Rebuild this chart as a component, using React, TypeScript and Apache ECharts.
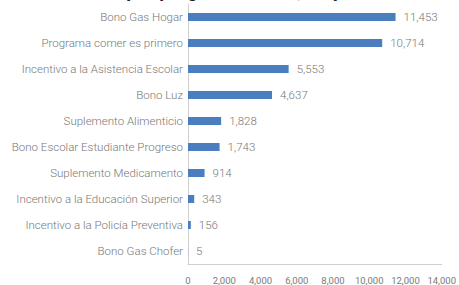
import React, { useEffect, useRef } from "react";
import * as echarts from "echarts";

const categories = [
  "Bono Gas Hogar",
  "Programa comer es primero",
  "Incentivo a la Asistencia Escolar",
  "Bono Luz",
  "Suplemento Alimenticio",
  "Bono Escolar Estudiante Progreso",
  "Suplemento Medicamento",
  "Incentivo a la Educación Superior",
  "Incentivo a la Policía Preventiva",
  "Bono Gas Chofer",
];
const values = [11453, 10714, 5553, 4637, 1828, 1743, 914, 343, 156, 5];
const titleText = "Beneficiarios por programa social, mayo de 2022";

export default function App() {
  const ref = useRef<HTMLDivElement>(null);
  useEffect(() => {
    const chart = echarts.init(ref.current!, null, { renderer: "svg" });
    chart.setOption({
      animation: false,
      backgroundColor: "#ffffff",
      textStyle: { fontFamily: "Roboto" },
      title: {
        text: titleText,
        left: 4,
        top: -24,
        textStyle: { fontSize: 19, fontWeight: "bold", color: "#222", fontFamily: "Roboto" },
      },
      grid: { left: 188, right: 16, top: 4, bottom: 20 },
      xAxis: {
        type: "value",
        min: 0,
        max: 14000,
        interval: 2000,
        axisLine: { show: true, lineStyle: { color: "#d0d0d0" } },
        axisTick: { show: false },
        splitLine: { show: false },
        axisLabel: {
          color: "#7a7a7a",
          fontSize: 9.5,
          margin: 11,
          formatter: (v: number) => v.toLocaleString("en-US"),
        },
      },
      yAxis: {
        type: "category",
        data: categories,
        inverse: true,
        axisLine: { show: true, lineStyle: { color: "#d0d0d0" } },
        axisTick: { show: false },
        axisLabel: { color: "#777", fontSize: 11.5, margin: 5, fontWeight: 300 },
      },
      series: [
        {
          type: "bar",
          data: values,
          barWidth: 8,
          itemStyle: { color: "#4a7ebf" },
          label: {
            show: true,
            position: "right",
            distance: 8,
            color: "#777",
            fontSize: 11.5,
            fontWeight: 300,
            formatter: (p: any) => Number(p.value).toLocaleString("en-US"),
          },
        },
      ],
    });
    return () => chart.dispose();
  }, []);
  return <div ref={ref} style={{ width: 459, height: 285, position: "absolute", left: 0, top: 0 }} />;
}
